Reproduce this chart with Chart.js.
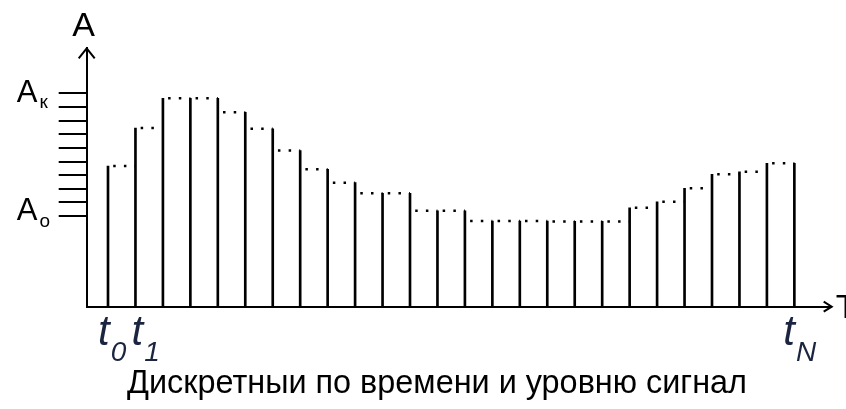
<!DOCTYPE html>
<html><head><meta charset="utf-8">
<script src="https://cdn.jsdelivr.net/npm/chart.js@4.4.1/dist/chart.umd.min.js"></script>
<style>html,body{margin:0;padding:0;background:#fff;}canvas{display:block;}</style>
</head><body>
<canvas id="c" width="846" height="409"></canvas>
<script>
// ---- data ----
const sampleIndex = [0,1,2,3,4,5,6,7,8,9,10,11,12,13,14,15,16,17,18,19,20,21,22,23,24,25];
const amplitudes = [10.32,13.11,15.29,15.29,15.29,14.26,13.06,11.46,10.08,9.10,8.32,8.32,7.04,7.04,6.29,6.29,6.29,6.26,6.26,7.26,7.70,8.69,9.71,9.90,10.52,10.52];
const quantLevels = [6.65,7.65,8.65,9.65,10.65,11.65,12.65,13.65,14.65,15.65];
const levelLabelLow = ['A','о'];
const levelLabelHigh = ['A','к'];
const timeLabels = [['t','0'],['t','1'],['t','N']];
const axisTitleY = 'A';
const axisTitleX = 'T';
const caption = 'Дискретныи по времени и уровню сигнал';

// dotted hold lines between neighbouring samples, at the lower of the two levels
const holdPoints = [];
for (let i = 0; i < amplitudes.length - 1; i++) {
  const lvl = Math.min(amplitudes[i], amplitudes[i+1]);
  holdPoints.push({x: sampleIndex[i], y: lvl}, {x: sampleIndex[i+1], y: lvl}, {x: sampleIndex[i+1], y: null});
}

const deco = {
  id: 'deco',
  afterDraw(chart) {
    const {ctx, chartArea: a, scales: {x, y}} = chart;
    ctx.save();
    ctx.strokeStyle = '#000'; ctx.lineWidth = 2; ctx.lineJoin = 'miter'; ctx.lineCap = 'butt';
    ctx.beginPath(); ctx.moveTo(a.left - 8, a.top + 10); ctx.lineTo(a.left, a.top); ctx.lineTo(a.left + 8, a.top + 10); ctx.stroke();
    ctx.beginPath(); ctx.moveTo(a.right - 8, a.bottom - 5); ctx.lineTo(a.right, a.bottom); ctx.lineTo(a.right - 8, a.bottom + 5); ctx.stroke();

    ctx.fillStyle = '#000';
    ctx.textBaseline = 'alphabetic';
    // axis titles
    ctx.font = '34px "Liberation Sans"';
    ctx.textAlign = 'center';
    ctx.fillText(axisTitleY, a.left - 3, a.top - 12);
    ctx.textAlign = 'left';
    ctx.fillText(axisTitleX, a.right + 4, a.bottom + 11);

    // level labels
    const yHi = y.getPixelForValue(quantLevels[quantLevels.length - 1]);
    const yLo = y.getPixelForValue(quantLevels[0]);
    const lx = a.left - 70;
    ctx.font = '31px "Liberation Sans"';
    ctx.fillText(levelLabelHigh[0], lx, yHi + 9);
    ctx.fillText(levelLabelLow[0], lx, yLo + 4);
    const wA = ctx.measureText('A').width;
    ctx.font = '19px "Liberation Sans"';
    ctx.fillText(levelLabelHigh[1], lx + wA + 2, yHi + 15);
    ctx.fillText(levelLabelLow[1], lx + wA + 2, yLo + 10.5);

    // time labels
    const idx = [0, 1, sampleIndex.length - 1];
    const shift = [-10, -4, -11];
    ctx.fillStyle = '#1b2540';
    idx.forEach((k, j) => {
      const px = x.getPixelForValue(sampleIndex[k]);
      const tl = px + shift[j];
      ctx.font = 'italic 42px "Liberation Sans"';
      ctx.fillText(timeLabels[j][0], tl, a.bottom + 38);
      const wt = ctx.measureText(timeLabels[j][0]).width;
      ctx.font = 'italic 28px "Liberation Sans"';
      ctx.fillText(timeLabels[j][1], tl + wt + 1, a.bottom + 54);
    });

    // caption
    ctx.fillStyle = '#000';
    ctx.font = '34px "Liberation Sans"';
    const w = ctx.measureText(caption).width;
    const target = 620, cx = 437;
    const sx = target / w;
    ctx.translate(cx - target / 2, 393);
    ctx.scale(sx, 1);
    ctx.textAlign = 'left';
    ctx.fillText(caption, 0, 0);
    ctx.restore();
  }
};

new Chart(document.getElementById('c'), {
  type: 'bar',
  data: {
    datasets: [
      {type: 'bar', data: sampleIndex.map((v, i) => ({x: v, y: amplitudes[i]})), backgroundColor: '#000', borderWidth: 0, barThickness: 2, order: 1},
      {type: 'line', data: holdPoints, borderColor: '#000', borderWidth: 2.5, borderDash: [2.5, 8.2], borderDashOffset: 5.5, pointRadius: 0, spanGaps: false, tension: 0, borderCapStyle: 'butt', order: 0}
    ]
  },
  options: {
    responsive: false, animation: false, devicePixelRatio: 1,
    layout: {padding: {left: 86.7, top: 48.3, right: 14.3, bottom: 102.3}},
    plugins: {legend: {display: false}, tooltip: {enabled: false}, title: {display: false}},
    scales: {
      x: {type: 'linear', offset: false, min: -0.776, max: 26.36, grid: {display: false, offset: false}, ticks: {display: false},
          border: {display: true, color: '#000', width: 2}, afterFit(s) { s.height = 0; }},
      y: {type: 'linear', min: 0, max: 18.96,
          afterBuildTicks(s) { s.ticks = quantLevels.map(v => ({value: v})); },
          ticks: {display: false},
          grid: {drawOnChartArea: false, drawTicks: true, tickLength: 28, color: '#000', lineWidth: 2},
          border: {display: true, color: '#000', width: 2}, afterFit(s) { s.width = 0; }}
    }
  },
  plugins: [deco]
});
</script>
</body></html>
